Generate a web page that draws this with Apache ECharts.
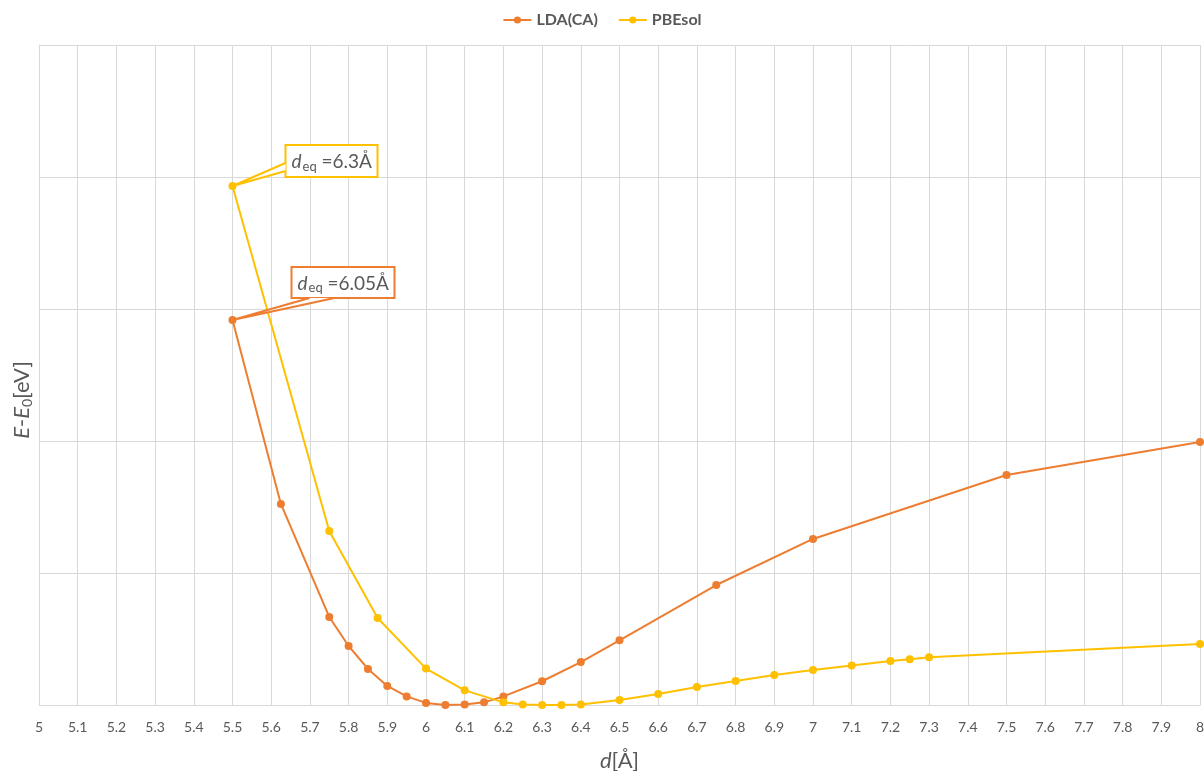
<!DOCTYPE html>
<html>
<head>
<meta charset="utf-8">
<script src="https://cdn.jsdelivr.net/npm/echarts@6/dist/echarts.min.js"></script>
<style>html,body{margin:0;padding:0;background:#fff}#c{width:1204px;height:771px}</style>
</head>
<body>
<div id="c"></div>
<script>
const ldaX = [5.5,5.625,5.75,5.8,5.85,5.9,5.95,6.0,6.05,6.1,6.15,6.2,6.3,6.4,6.5,6.75,7.0,7.5,8.0];
const ldaY = [2.917,1.523,0.667,0.447,0.273,0.144,0.065,0.016,0,0.003,0.02,0.065,0.18,0.325,0.49,0.909,1.258,1.742,1.992];
const pbeX = [5.5,5.75,5.875,6.0,6.1,6.2,6.25,6.3,6.35,6.4,6.5,6.6,6.7,6.8,6.9,7.0,7.1,7.2,7.25,7.3,8.0];
const pbeY = [3.932,1.318,0.659,0.276,0.111,0.02,0.003,0,0,0.003,0.038,0.083,0.136,0.182,0.227,0.265,0.30,0.333,0.346,0.361,0.462];
const seriesNames = ['LDA(CA)','PBEsol'];
const colors = ['#ED7D31','#FFC000'];
const callouts = [
  {series:1, idx:0, sub:'eq', text:' =6.3Å'},
  {series:0, idx:0, sub:'eq', text:' =6.05Å'}
];

const FONT = 'Lato, "Open Sans", sans-serif';
const chart = echarts.init(document.getElementById('c'));
const mk = (xs, ys) => xs.map((x,i)=>[x, ys[i]]);
chart.setOption({
  animation:false,
  color: colors,
  textStyle:{fontFamily:FONT},
  legend:{top:7, left:'center', itemWidth:28, itemHeight:9, itemGap:20,
    textStyle:{color:'#595959', fontSize:16, fontWeight:'bold', fontFamily:FONT},
    data: seriesNames},
  grid:{left:39, right:4, top:45, bottom:66, outerBoundsMode:'none', containLabel:false},
  xAxis:{type:'value', min:5, max:8, interval:0.1,
    axisLine:{lineStyle:{color:'#d9d9d9'}}, axisTick:{show:false},
    splitLine:{show:true, lineStyle:{color:'#d9d9d9'}},
    axisLabel:{color:'#595959', fontSize:14, margin:15, formatter:v=>String(Math.round(v*10)/10)},
    name:'{i|d}[Å]', nameLocation:'middle', nameGap:45,
    nameTextStyle:{color:'#595959', fontSize:22, rich:{i:{fontStyle:'italic', fontSize:22, color:'#595959'}}}
  },
  yAxis:{type:'value', min:0, max:5, interval:1,
    axisLine:{show:true, lineStyle:{color:'#d9d9d9'}}, axisTick:{show:false}, axisLabel:{show:false},
    splitLine:{show:true, lineStyle:{color:'#d9d9d9'}}},
  series:[
    {name:seriesNames[0], type:'line', data:mk(ldaX,ldaY), symbol:'circle', symbolSize:8,
      lineStyle:{width:2}, itemStyle:{color:colors[0]}},
    {name:seriesNames[1], type:'line', data:mk(pbeX,pbeY), symbol:'circle', symbolSize:8,
      lineStyle:{width:2}, itemStyle:{color:colors[1]}}
  ]
});

const ys = [ldaY, pbeY], xs = [ldaX, pbeX];
const g = [];
// yAxis name
g.push({type:'text', x:22, y:400, rotation:Math.PI/2, z:10,
  style:{text:'{i|E}-{i|E}{s|0}[eV]', fill:'#595959', fontSize:22, fontFamily:FONT, align:'center', verticalAlign:'middle',
    rich:{i:{fontStyle:'italic', fontSize:22, fill:'#595959', fontFamily:FONT}, s:{fontSize:14, padding:[10,0,0,0], fontFamily:FONT, fill:'#595959'}}}});
callouts.forEach((c, k) => {
  const p = chart.convertToPixel({seriesIndex:c.series}, [xs[c.series][c.idx], ys[c.series][c.idx]]);
  const col = colors[c.series];
  let bx, by, bw, bh, a1, a2;
  if (c.series === 1) { bx = p[0]+53; by = p[1]-41; bw = 92; bh = 32; a1=[bx, by+18]; a2=[bx, by+26]; }
  else { bx = p[0]+59; by = p[1]-53; bw = 103; bh = 31; a1=[bx+18, by+bh]; a2=[bx+43, by+bh]; }
  g.push({type:'rect', shape:{x:bx, y:by, width:bw, height:bh}, z:20,
    style:{fill:'#fff', stroke:col, lineWidth:2}});
  g.push({type:'polygon', shape:{points:[p, a1, a2]}, z:21, style:{fill:'#fff'}});
  g.push({type:'polyline', shape:{points:[a1, p, a2]}, z:22, style:{stroke:col, lineWidth:2, fill:null}});
  g.push({type:'text', x:bx+6, y:by+bh/2+1, z:23,
    style:{text:'{i|d}{s|'+c.sub+'}'+c.text, fill:'#595959', fontSize:19, fontFamily:FONT, verticalAlign:'middle',
      rich:{i:{fontStyle:'italic', fontSize:19, fill:'#595959', fontFamily:FONT}, s:{fontSize:13, padding:[9,0,0,1], fill:'#595959', fontFamily:FONT}}}});
});
chart.setOption({graphic:g});
</script>
</body>
</html>
